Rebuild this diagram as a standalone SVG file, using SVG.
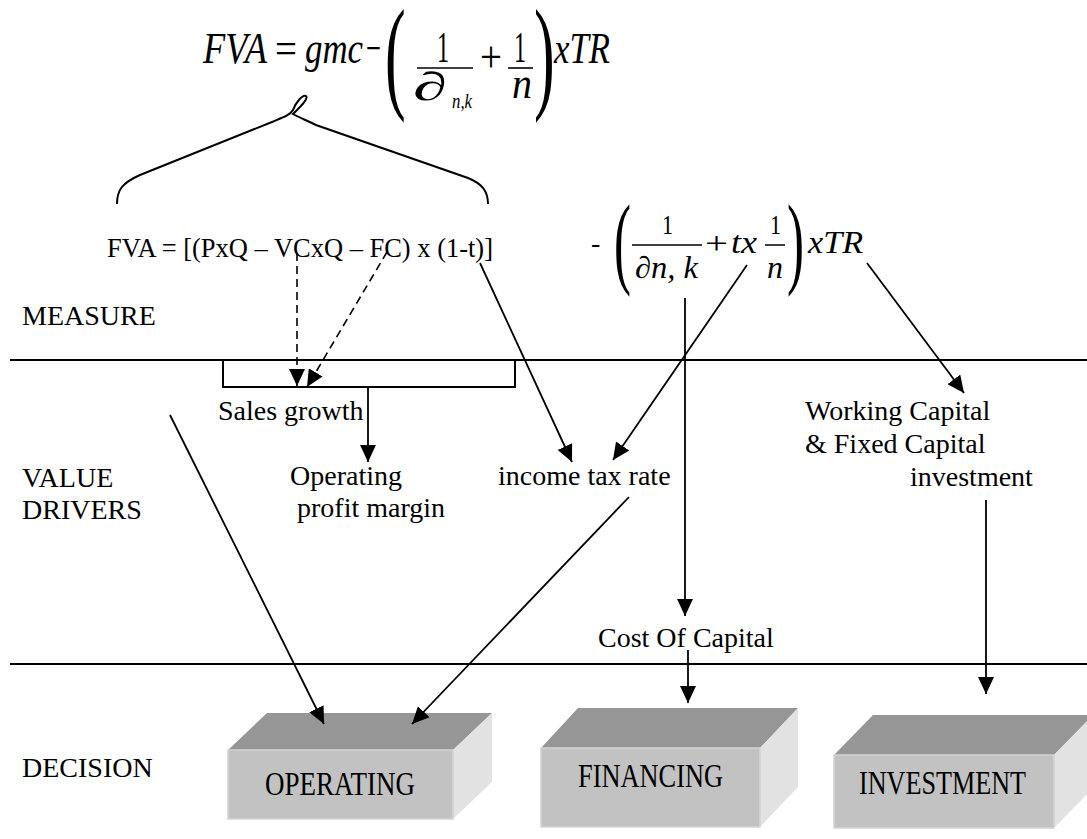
<svg xmlns="http://www.w3.org/2000/svg" width="1087" height="839" viewBox="0 0 1087 839">
<style>
.t{font-family:"Liberation Serif","Times New Roman",serif;font-size:28px;fill:#000}
.m{font-family:"Liberation Serif","Times New Roman",serif;font-style:italic;fill:#000}
.r{font-family:"Liberation Serif","Times New Roman",serif;fill:#000}
.ln{stroke:#000;stroke-width:2;fill:none}
.ar{stroke:#000;stroke-width:1.8;fill:none;marker-end:url(#ah)}
.da{stroke:#000;stroke-width:1.6;fill:none;stroke-dasharray:8 5;marker-end:url(#ah)}
.top{fill:#969696}
.front{fill:#c2c2c2;stroke:#d4d4d4;stroke-width:1.5}
.side{fill:#e2e2e2}
.bx{font-family:"Liberation Serif","Times New Roman",serif;font-size:34px;fill:#000}
</style>
<defs>
<marker id="ah" markerUnits="userSpaceOnUse" markerWidth="18" markerHeight="16" refX="17" refY="8" orient="auto">
<path d="M0,0 L17,8 L0,16 z" fill="#000"/>
</marker>
</defs>

<g id="equation-top">
<text class="m" x="203" y="63" font-size="44" textLength="64" lengthAdjust="spacingAndGlyphs">FVA</text>
<text class="r" x="275" y="63" font-size="44" textLength="22" lengthAdjust="spacingAndGlyphs">=</text>
<text class="m" x="305" y="63" font-size="44" textLength="58" lengthAdjust="spacingAndGlyphs">gmc</text>
<text class="r" x="366" y="63" font-size="44" textLength="15" lengthAdjust="spacingAndGlyphs">−</text>
<text class="r" transform="translate(385,96) scale(0.5,1)" font-size="124">(</text>
<text class="r" x="437" y="62" font-size="44" textLength="12" lengthAdjust="spacingAndGlyphs">1</text>
<line x1="417" y1="68" x2="473" y2="68" stroke="#000" stroke-width="1.6"/>
<text class="m" x="413" y="100" font-size="40" textLength="34" lengthAdjust="spacingAndGlyphs">∂</text>
<text class="m" x="452" y="108" font-size="22" textLength="20" lengthAdjust="spacingAndGlyphs">n,k</text>
<text class="r" x="480" y="72" font-size="44" textLength="22" lengthAdjust="spacingAndGlyphs">+</text>
<text class="r" x="514" y="62" font-size="44" textLength="12" lengthAdjust="spacingAndGlyphs">1</text>
<line x1="508" y1="68" x2="533" y2="68" stroke="#000" stroke-width="1.6"/>
<text class="m" x="512" y="98" font-size="44" textLength="20" lengthAdjust="spacingAndGlyphs">n</text>
<text class="r" transform="translate(534,96) scale(0.5,1)" font-size="124">)</text>
<text class="m" x="554" y="63" font-size="44" textLength="56" lengthAdjust="spacingAndGlyphs">xTR</text>
<path class="ln" d="M117,204 C117,190 122,183 140,175 L272,122 C284,117 290,115 293,110 C296,102 303,94 306,96 C309,99 299,108 293,114 C300,118 306,120 316,125 L468,178 C483,184 488,192 488,204"/>
</g>

<g id="equation-detail">
<text class="t" x="107" y="257" font-size="27" textLength="386" lengthAdjust="spacingAndGlyphs">FVA = [(PxQ – VCxQ – FC) x (1-t)]</text>
<text class="r" x="591" y="252" font-size="28">-</text>
<text class="r" transform="translate(614,275) scale(0.5,1)" font-size="102">(</text>
<text class="r" x="662" y="234" font-size="28" textLength="11" lengthAdjust="spacingAndGlyphs">1</text>
<line x1="632" y1="245" x2="702" y2="245" stroke="#000" stroke-width="1.5"/>
<text class="m" x="635" y="278" font-size="31" textLength="63" lengthAdjust="spacingAndGlyphs">∂n, k</text>
<text class="r" x="705" y="254" font-size="31" textLength="23" lengthAdjust="spacingAndGlyphs">+</text>
<text class="m" x="731" y="253" font-size="31" textLength="26" lengthAdjust="spacingAndGlyphs">tx</text>
<text class="r" x="770" y="234" font-size="28" textLength="11" lengthAdjust="spacingAndGlyphs">1</text>
<line x1="765" y1="245" x2="785" y2="245" stroke="#000" stroke-width="1.5"/>
<text class="m" x="767" y="278" font-size="31" textLength="16" lengthAdjust="spacingAndGlyphs">n</text>
<text class="r" transform="translate(787,275) scale(0.5,1)" font-size="102">)</text>
<text class="m" x="808" y="253" font-size="31" textLength="55" lengthAdjust="spacingAndGlyphs">xTR</text>
</g>

<g id="levels">
<line class="ln" x1="10" y1="360" x2="1087" y2="360"/>
<line class="ln" x1="10" y1="664" x2="1087" y2="664"/>
<text class="t" x="22" y="325">MEASURE</text>
<text class="t" x="22" y="487">VALUE</text>
<text class="t" x="22" y="519">DRIVERS</text>
<text class="t" x="22" y="777">DECISION</text>
</g>

<g id="sales-growth">
<rect class="ln" x="223" y="360" width="292" height="27"/>
<text class="t" x="218" y="420">Sales growth</text>
</g>
<g id="operating-margin">
<text class="t" x="290" y="485">Operating</text>
<text class="t" x="297" y="517">profit margin</text>
</g>
<g id="income-tax">
<text class="t" x="498" y="485">income tax rate</text>
</g>
<g id="working-capital">
<text class="t" x="805" y="420">Working Capital</text>
<text class="t" x="805" y="453">&amp; Fixed Capital</text>
<text class="t" x="910" y="486">investment</text>
</g>
<g id="cost-of-capital">
<text class="t" x="598" y="647">Cost Of Capital</text>
</g>

<g id="box-operating">
<polygon class="top" points="228,750 267,713 492,713 453,750"/>
<polygon class="side" points="453,750 492,713 492,782 453,819"/>
<rect class="front" x="228" y="750" width="225" height="69"/>
<text class="bx" x="265" y="795" textLength="150" lengthAdjust="spacingAndGlyphs">OPERATING</text>
</g>
<g id="box-financing">
<polygon class="top" points="541,748 578,708 798,708 760,748"/>
<polygon class="side" points="760,748 798,708 798,787 760,827"/>
<rect class="front" x="541" y="748" width="219" height="79"/>
<text class="bx" x="578" y="787" textLength="145" lengthAdjust="spacingAndGlyphs">FINANCING</text>
</g>
<g id="box-investment">
<polygon class="top" points="834,755 873,715 1093,715 1054,755"/>
<polygon class="side" points="1054,755 1093,715 1093,788 1054,828"/>
<rect class="front" x="834" y="755" width="220" height="73"/>
<text class="bx" x="859" y="794" textLength="167" lengthAdjust="spacingAndGlyphs">INVESTMENT</text>
</g>

<g id="connectors">
<line class="da" x1="297" y1="253" x2="297" y2="386"/>
<line class="da" x1="387" y1="252" x2="307" y2="387"/>
<line class="ar" x1="368" y1="387" x2="368" y2="462"/>
<line class="ar" x1="480" y1="263" x2="572" y2="462"/>
<line class="ar" x1="747" y1="265" x2="613" y2="460"/>
<line class="ar" x1="685" y1="298" x2="685" y2="616"/>
<line class="ar" x1="688" y1="650" x2="688" y2="703"/>
<line class="ar" x1="867" y1="263" x2="964" y2="393"/>
<line class="ar" x1="986" y1="500" x2="986" y2="694"/>
<line class="ar" x1="170" y1="415" x2="324" y2="724"/>
<line class="ar" x1="629" y1="497" x2="412" y2="724"/>
</g>
</svg>
